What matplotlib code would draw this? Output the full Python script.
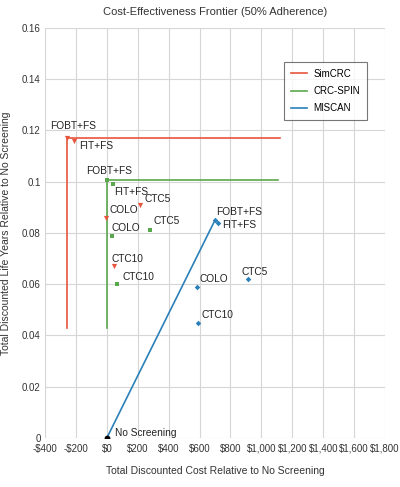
import matplotlib
matplotlib.use("Agg")
import matplotlib.pyplot as plt
from matplotlib.lines import Line2D

plt.rcParams['font.family'] = ['Liberation Sans', 'DejaVu Sans']

strategies = ["FOBT+FS", "FIT+FS", "COLO", "CTC5", "CTC10"]

sim_cost = [-260, -212, -5, 215, 46]
sim_ly = [0.117, 0.116, 0.086, 0.091, 0.067]

spin_cost = [3, 42, 31, 280, 68]
spin_ly = [0.1005, 0.099, 0.079, 0.081, 0.060]

mis_cost = [700, 720, 581, 915, 588]
mis_ly = [0.085, 0.084, 0.059, 0.062, 0.045]

# frontier lines
sim_front_x = [-260, -260, 1120]
sim_front_y = [0.043, 0.117, 0.117]
spin_front_x = [3, 3, 1105]
spin_front_y = [0.043, 0.1005, 0.1005]
mis_front_x = [0, 700, 720]
mis_front_y = [0.0, 0.085, 0.084]

xticks = list(range(-400, 1801, 200))
xticklabels = ["-$400", "-$200", "$0", "$200", "$400", "$600", "$800",
               "$1,000", "$1,200", "$1,400", "$1,600", "$1,800"]
yticks = [0, 0.02, 0.04, 0.06, 0.08, 0.1, 0.12, 0.14, 0.16]
yticklabels = ["0", "0.02", "0.04", "0.06", "0.08", "0.1", "0.12", "0.14", "0.16"]

c_sim = "#E8553D"
c_spin = "#5AA84E"
c_mis = "#2A80B9"

fig = plt.figure(figsize=(4.0, 4.87), dpi=100)
ax = fig.add_axes([0.1125, 0.1006, 0.85, 0.842])

ax.plot(sim_front_x, sim_front_y, color=c_sim, lw=1.2, zorder=2)
ax.plot(spin_front_x, spin_front_y, color=c_spin, lw=1.2, zorder=2)
ax.plot(mis_front_x, mis_front_y, color=c_mis, lw=1.2, zorder=2)

ax.scatter(sim_cost, sim_ly, marker='v', s=14, color=c_sim, zorder=3, linewidths=0)
ax.scatter(spin_cost, spin_ly, marker='s', s=12, color=c_spin, zorder=3, linewidths=0)
ax.scatter(mis_cost, mis_ly, marker='D', s=8, color=c_mis, zorder=3, linewidths=0)
ax.scatter([0], [0], marker='o', s=10, color='black', zorder=4)

fs = 7.3
sim_off = {"FOBT+FS": (-17, 12), "FIT+FS": (5, -5), "COLO": (3, 8),
           "CTC5": (4, 6), "CTC10": (-2, 7)}
spin_off = {"FOBT+FS": (-21, 9), "FIT+FS": (1, -8), "COLO": (0, 8),
            "CTC5": (3, 9), "CTC10": (5, 7)}
mis_off = {"FOBT+FS": (1, 8), "FIT+FS": (4, -2), "COLO": (3, 8),
           "CTC5": (-7, 7), "CTC10": (4, 8)}

for names, xs, ys, offs in [(strategies, sim_cost, sim_ly, sim_off),
                             (strategies, spin_cost, spin_ly, spin_off),
                             (strategies, mis_cost, mis_ly, mis_off)]:
    for n, x, y in zip(names, xs, ys):
        ax.annotate(n, (x, y), xytext=offs[n], textcoords='offset pixels',
                    fontsize=fs, ha='left', va='center', color='#222222')
ax.annotate("No Screening", (0, 0), xytext=(8, 5), textcoords='offset pixels',
            fontsize=fs, ha='left', va='center', color='#222222')

ax.set_xlim(-400, 1800)
ax.set_ylim(0, 0.16)
ax.set_xticks(xticks)
ax.set_xticklabels(xticklabels)
ax.set_yticks(yticks)
ax.set_yticklabels(yticklabels)
ax.tick_params(labelsize=7, length=0, colors='#333333')
ax.tick_params(axis='x', pad=4)
ax.tick_params(axis='y', pad=3)
ax.grid(True, color='#d6d6d6', lw=0.8)
ax.set_axisbelow(True)
for s in ax.spines.values():
    s.set_visible(False)

ax.set_title("Cost-Effectiveness Frontier (50% Adherence)", fontsize=8, pad=9, color='#333333')
ax.set_xlabel("Total Discounted Cost Relative to No Screening", fontsize=7.5, labelpad=9, color='#333333')
ax.set_ylabel("Total Discounted Life Years Relative to No Screening", fontsize=7.5, labelpad=8, color='#333333')

handles = [Line2D([0], [0], color=c_sim, lw=1.2),
           Line2D([0], [0], color=c_spin, lw=1.2),
           Line2D([0], [0], color=c_mis, lw=1.2)]
leg = ax.legend(handles, ["SimCRC", "CRC-SPIN", "MISCAN"], loc='upper left',
                bbox_to_anchor=(0.703, 0.917), fontsize=7, frameon=True,
                fancybox=False, edgecolor='#555555', handlelength=1.7,
                handletextpad=0.6, labelspacing=0.75, borderpad=0.7,
                borderaxespad=0)
leg.get_frame().set_linewidth(0.8)

fig.savefig("out.png", dpi=100, facecolor='white')
